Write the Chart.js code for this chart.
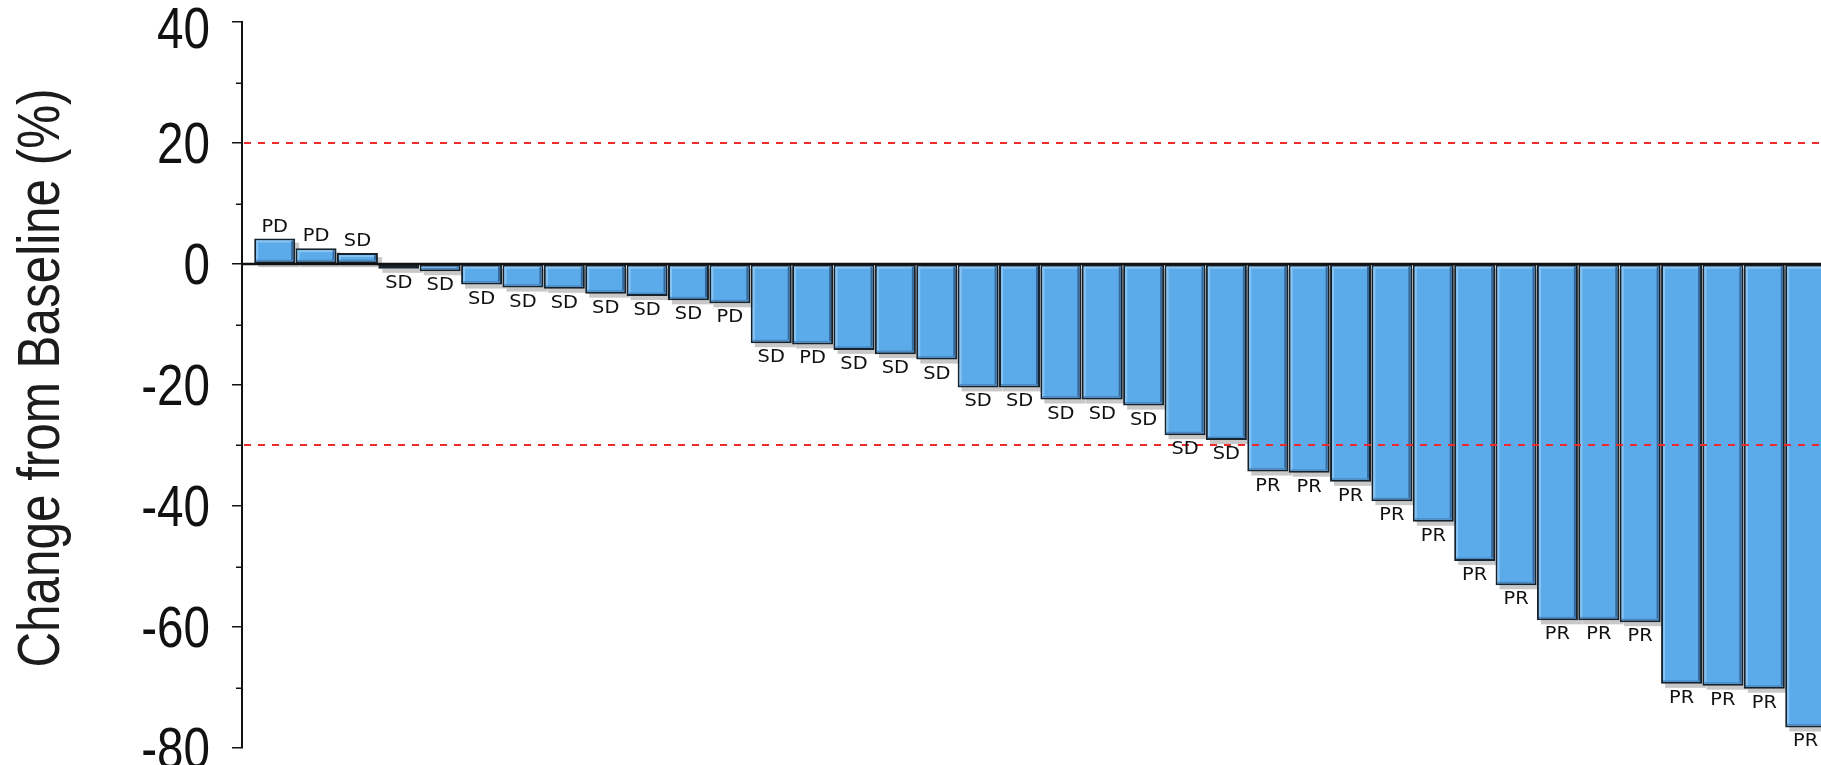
<!DOCTYPE html>
<html>
<head>
<meta charset="utf-8">
<script src="https://cdn.jsdelivr.net/npm/chart.js@4.4.0/dist/chart.umd.min.js"></script>
<style>
  html, body { margin: 0; padding: 0; background: #fff; overflow: hidden; }
  #wrap { width: 1821px; height: 765px; position: relative; }
</style>
</head>
<body>
<div id="wrap"><canvas id="waterfall" width="1821" height="765"></canvas></div>
<script>
// Best overall response per patient, sorted by change in target lesion size
const responses = [
  'PD', 'PD', 'SD', 'SD', 'SD', 'SD', 'SD', 'SD', 'SD', 'SD', 'SD', 'PD',
  'SD', 'PD', 'SD', 'SD', 'SD', 'SD', 'SD', 'SD', 'SD', 'SD', 'SD', 'SD',
  'PR', 'PR', 'PR', 'PR', 'PR', 'PR', 'PR', 'PR', 'PR', 'PR', 'PR', 'PR', 'PR', 'PR'
];
// Change from baseline (%)
const changes = [
  4.2, 2.6, 1.8, -0.8, -1.2, -3.4, -3.9, -4.1, -4.9, -5.3, -6.0, -6.5,
  -13.1, -13.3, -14.2, -14.9, -15.8, -20.4, -20.4, -22.4, -22.4, -23.4, -28.3, -29.1,
  -34.3, -34.5, -36.0, -39.2, -42.6, -49.1, -53.1, -58.9, -58.9, -59.2, -69.4, -69.7, -70.2, -76.6
];
// Patient position along the x axis
const patients = changes.map((_, i) => i + 1);
// Labelled y ticks (minor ticks sit halfway between)
const yTickLabels = [40, 20, 0, -20, -40, -60, -80];
// Progression (+20%) and partial response (-30%) cut-offs
const thresholds = [20, -30];
const yTitle = 'Change from Baseline (%)';

const AXIS_FONT = "'Liberation Sans', Arial, sans-serif";
const BAR_FILL = '#5BAAEA';
const BAR_EDGE = '#16222C';

// Drop shadow under each bar
const barShadow = {
  id: 'barShadow',
  beforeDatasetsDraw(chart) {
    const { ctx, chartArea } = chart;
    const meta = chart.getDatasetMeta(0);
    ctx.save();
    ctx.beginPath();
    ctx.rect(chartArea.left, chartArea.top, chartArea.right - chartArea.left, chartArea.bottom - chartArea.top + 10);
    ctx.clip();
    ctx.fillStyle = '#c8c8c8';
    meta.data.forEach(bar => {
      const { x, y, base, width } = bar.getProps(['x', 'y', 'base', 'width'], true);
      const top = Math.min(y, base), h = Math.abs(base - y);
      ctx.fillRect(x - width / 2 + 4, top + 4, width, h);
    });
    ctx.restore();
  }
};

// Bevel highlights, zero line, cut-off lines and response labels
const barDecor = {
  id: 'barDecor',
  afterDatasetsDraw(chart) {
    const { ctx, chartArea } = chart;
    const yScale = chart.scales.y;
    const meta = chart.getDatasetMeta(0);
    ctx.save();
    ctx.beginPath();
    ctx.rect(chartArea.left, chartArea.top - 40, chartArea.right - chartArea.left, chartArea.bottom - chartArea.top + 60);
    ctx.clip();

    meta.data.forEach(bar => {
      const { x, y, base, width } = bar.getProps(['x', 'y', 'base', 'width'], true);
      const left = x - width / 2, right = x + width / 2;
      const top = Math.min(y, base), bottom = Math.max(y, base);
      const h = bottom - top;
      if (h < 6) return;
      ctx.fillStyle = '#88C3F1';
      ctx.fillRect(left + 2, top + 2, 2, h - 4);
      ctx.fillRect(left + 2, top + 2, width - 4, 2);
      ctx.fillStyle = '#36689A';
      ctx.fillRect(right - 4, top + 2, 2, h - 4);
      ctx.fillStyle = '#4A8AC4';
      ctx.fillRect(left + 2, bottom - 3.5, width - 4, 1.5);
    });

    // zero line
    const y0 = yScale.getPixelForValue(0);
    ctx.strokeStyle = '#111';
    ctx.lineWidth = 2.5;
    ctx.beginPath();
    ctx.moveTo(chartArea.left, y0);
    ctx.lineTo(chartArea.right, y0);
    ctx.stroke();

    // cut-off lines
    ctx.strokeStyle = '#EE2B2B';
    ctx.lineWidth = 2;
    ctx.setLineDash([7, 7]);
    thresholds.forEach(t => {
      const yy = Math.round(yScale.getPixelForValue(t));
      ctx.beginPath();
      ctx.moveTo(chartArea.left + 2, yy);
      ctx.lineTo(chartArea.right, yy);
      ctx.stroke();
    });
    ctx.setLineDash([]);

    // response labels
    ctx.fillStyle = '#111';
    ctx.font = "17px 'DejaVu Sans', Verdana, sans-serif";
    ctx.textAlign = 'center';
    ctx.textBaseline = 'alphabetic';
    meta.data.forEach((bar, i) => {
      const { x, y } = bar.getProps(['x', 'y'], true);
      const v = changes[i];
      ctx.save();
      ctx.translate(x, v >= 0 ? y - 7 : y + 19);
      ctx.scale(1.14, 1);
      ctx.fillText(responses[i], 0, 0);
      ctx.restore();
    });
    ctx.restore();
  },
  afterDraw(chart) {
    const { ctx } = chart;
    const yScale = chart.scales.y;
    ctx.save();

    // shorter minor ticks on the y axis
    ctx.strokeStyle = '#111';
    ctx.lineWidth = 1.5;
    yScale.ticks.forEach(t => {
      if (yTickLabels.includes(t.value)) return;
      const yy = Math.round(yScale.getPixelForValue(t.value)) + 0.25;
      ctx.beginPath();
      ctx.moveTo(yScale.right - 6, yy);
      ctx.lineTo(yScale.right, yy);
      ctx.stroke();
    });

    // tick labels in a condensed setting
    const tickSize = 57;
    ctx.fillStyle = '#111';
    ctx.font = tickSize + 'px ' + AXIS_FONT;
    ctx.textAlign = 'right';
    ctx.textBaseline = 'alphabetic';
    const labelRight = yScale.right - 10 - 22;
    yTickLabels.forEach(v => {
      const yy = yScale.getPixelForValue(v);
      // keep the digits inside the canvas at the top
      const base = Math.max(yy + 0.358 * tickSize, 6.7 + 0.716 * tickSize);
      ctx.save();
      ctx.translate(labelRight, base);
      ctx.scale(0.835, 1);
      ctx.fillText(String(v), 0, 0);
      ctx.restore();
    });

    // axis title, rotated and condensed
    ctx.fillStyle = '#1c1c1c';
    ctx.font = '60px ' + AXIS_FONT;
    ctx.textAlign = 'center';
    ctx.textBaseline = 'alphabetic';
    ctx.save();
    ctx.translate(59, (chart.chartArea.top + chart.chartArea.bottom) / 2 - 7);
    ctx.rotate(-Math.PI / 2);
    ctx.scale(0.823, 1);
    ctx.fillText(yTitle, 0, 0);
    ctx.restore();

    ctx.restore();
  }
};

new Chart(document.getElementById('waterfall'), {
  type: 'bar',
  data: {
    labels: patients,
    datasets: [{
      data: changes,
      backgroundColor: BAR_FILL,
      borderColor: BAR_EDGE,
      borderWidth: 2,
      borderSkipped: false,
      categoryPercentage: 1,
      barPercentage: 0.99
    }]
  },
  options: {
    responsive: false,
    animation: false,
    events: [],
    layout: { padding: { top: 22, bottom: 17, left: 0, right: 0 } },
    plugins: { legend: { display: false }, tooltip: { enabled: false } },
    scales: {
      x: {
        type: 'linear',
        display: false,
        offset: false,
        min: 0.21,
        max: 38.37
      },
      y: {
        min: -80,
        max: 40,
        border: { display: true, color: '#111', width: 2 },
        grid: {
          drawOnChartArea: false,
          drawTicks: true,
          tickLength: 10,
          lineWidth: 1.5,
          tickColor: c => (yTickLabels.includes(c.tick.value) ? '#111' : 'rgba(0,0,0,0)')
        },
        ticks: { display: false, stepSize: 10 },
        title: { display: false },
        afterFit(scale) {
          scale.width = 242;
          scale.paddingTop = 0;
          scale.paddingBottom = 0;
        }
      }
    }
  },
  plugins: [barShadow, barDecor]
});
</script>
</body>
</html>
